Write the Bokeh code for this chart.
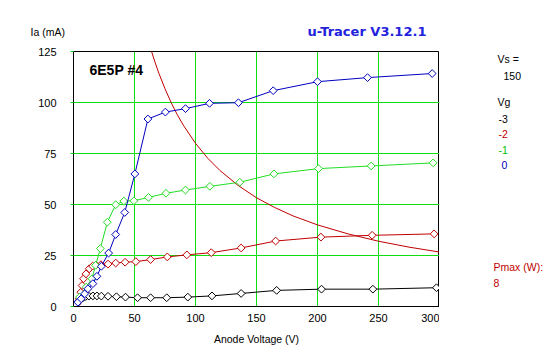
from bokeh.plotting import figure
from bokeh.models import Range1d, Label
from bokeh.layouts import column, row
from bokeh.embed import file_html
from bokeh.resources import INLINE
import math

# ---- data ----
vg_labels = ["-3", "-2", "-1", "0"]
vs_value = "150"
pmax_value = "8"

va_m3 = [0.5, 2, 4, 6, 8, 10, 12.6, 15.9, 19.2, 22.8, 28.3, 35.2, 42.6, 52.5, 63.2, 76.4, 93.7, 113.5, 137.4, 166.5, 203.3, 245.4, 297.5]
ia_m3 = [0.2, 1.2, 2.5, 3.6, 4.4, 4.9, 5.1, 5.2, 5.2, 5.1, 5.0, 4.8, 4.6, 4.3, 4.3, 4.3, 4.6, 5.2, 6.4, 7.9, 8.5, 8.5, 9.2]

va_m2 = [0.5, 2, 3.3, 4.7, 6, 7, 8.2, 10.2, 12.9, 15.7, 18.4, 22.5, 28.3, 34.6, 42.3, 51.1, 63.2, 76.9, 92.9, 112.9, 137.4, 165.7, 202.8, 244.8, 295.6]
ia_m2 = [0.3, 1.0, 1.8, 3.8, 7.0, 10.3, 13.6, 16.0, 18.5, 19.8, 20.3, 20.5, 20.8, 21.3, 21.7, 22.0, 23.0, 24.3, 25.3, 26.4, 28.7, 32.1, 34.0, 34.9, 35.6]

va_m1 = [0.8, 4.9, 10.4, 15.1, 18.1, 22.0, 27.7, 34.6, 41.2, 49.5, 61.5, 75.8, 91.8, 111.8, 136.3, 164.3, 200.8, 244.0, 294.8]
ia_m1 = [0.5, 4.6, 9.5, 13.6, 20.2, 28.4, 41.3, 49.9, 51.7, 51.8, 53.5, 55.5, 57.1, 58.9, 60.9, 65.0, 67.6, 68.9, 70.4]

va_0 = [0.5, 2, 3.6, 6.3, 9.1, 11.8, 15.9, 19.2, 22.8, 28.8, 34.6, 42.0, 50.3, 61.0, 75.3, 91.8, 111.5, 135.2, 163.7, 200.0, 241.0, 294.0]
ia_0 = [0.2, 1.0, 2.1, 3.8, 6.2, 8.7, 11.2, 14.8, 19.7, 26.2, 35.3, 46.1, 65.0, 91.9, 95.3, 97.0, 99.6, 99.9, 105.8, 110.2, 112.2, 114.2]

pmax_va = [64, 67, 70, 75, 80, 85, 90, 100, 110, 120, 135, 150, 165, 180, 200, 225, 250, 275, 300]
pmax_ia = [125, 119.4, 114.3, 106.7, 100, 94.1, 88.9, 80, 72.7, 66.7, 59.3, 53.3, 48.5, 44.4, 40, 35.6, 32, 29.1, 26.7]

x_ticks = [0, 50, 100, 150, 200, 250, 300]
y_ticks = [0, 25, 50, 75, 100, 125]

series_colors = ["black", "#C00000", "#22DD22", "#0000C0"]
legend_colors = ["black", "#C00000", "#00C000", "#0000C0"]

FONT = "Liberation Sans"
GRID = "#11DD11"

W, H = 547, 357
L, R, T, B = 73, 439, 51, 306
TOP_H = 44  # height of the header strip


def text_fig(w, h, xr, yr):
    f = figure(width=w, height=h, output_backend="svg", toolbar_location=None,
               x_range=Range1d(*xr), y_range=Range1d(*yr),
               x_axis_type=None, y_axis_type=None,
               min_border=0, min_border_left=0, min_border_right=0,
               min_border_top=0, min_border_bottom=0)
    f.grid.visible = False
    f.outline_line_color = None
    f.background_fill_color = "white"
    f.border_fill_color = "white"
    return f


def add_text(f, txt, x, y, color="black", size="10.5px", style="normal", font=FONT):
    f.add_layout(Label(x=x, y=y, text=txt, text_color=color,
                       text_font=font, text_font_size=size, text_font_style=style,
                       text_baseline="middle", text_align="left"))


# header strip (page pixel coordinates)
top = text_fig(W, TOP_H, (0, W), (TOP_H, 0))
add_text(top, "Ia (mA)", 30, 31)
add_text(top, "u-Tracer V3.12.1", 307, 31, color="#2222DD", size="13px", style="bold", font="DejaVu Sans")

# main chart
main_h = H - TOP_H
p = figure(width=R, height=main_h, output_backend="svg", toolbar_location=None,
           x_range=Range1d(0, 300), y_range=Range1d(0, 125),
           min_border_left=L, min_border_right=0, min_border_top=T - TOP_H,
           min_border_bottom=H - B)
p.background_fill_color = "white"
p.border_fill_color = "white"
p.outline_line_color = "black"
p.outline_line_width = 1
p.outline_line_alpha = 1.0

p.xaxis.ticker = x_ticks
p.yaxis.ticker = y_ticks
p.xgrid.ticker = x_ticks
p.ygrid.ticker = y_ticks
for g in (p.xgrid, p.ygrid):
    g.grid_line_color = GRID
    g.grid_line_width = 1
    g.grid_line_alpha = 1.0

for ax in (p.xaxis, p.yaxis):
    ax.axis_line_color = "black"
    ax.minor_tick_line_color = None
    ax.major_label_text_font = FONT
    ax.major_label_text_font_size = "11px"
    ax.major_label_text_color = "black"
p.xaxis.major_tick_line_color = None
p.xaxis.major_label_standoff = 1
p.yaxis.major_tick_line_color = GRID
p.yaxis.major_tick_in = 0
p.yaxis.major_tick_out = 3
p.yaxis.major_label_standoff = 14
p.xaxis.axis_label = "Anode Voltage (V)"
p.xaxis.axis_label_text_font = FONT
p.xaxis.axis_label_text_font_size = "10.5px"
p.xaxis.axis_label_text_font_style = "normal"
p.xaxis.axis_label_text_color = "black"
p.xaxis.axis_label_standoff = 8

# Pmax hyperbola
p.line(pmax_va, pmax_ia, line_color="#C00000", line_width=1)

for va, ia, col in zip([va_m3, va_m2, va_m1, va_0], [ia_m3, ia_m2, ia_m1, ia_0], series_colors):
    p.line(va, ia, line_color=col, line_width=1)
    p.scatter(va, ia, marker="square", angle=math.pi / 4, size=5.5,
              fill_color="white", line_color=col, line_width=1)

p.add_layout(Label(x=(89 - L) * 300 / (R - L), y=(B - 69) * 125 / (B - T), text="6E5P #4",
                   text_color="black", text_font=FONT, text_font_size="14px",
                   text_font_style="bold", text_baseline="middle", text_align="left"))

# right-hand info column: its frame is aligned with the main frame, so map page pixels onto it
side = text_fig(W - R, main_h, (R, W), (B, T))
add_text(side, "Vs =", 497, 58)
add_text(side, vs_value, 503, 75)
add_text(side, "Vg", 497, 101)
for lab, c, yy, xx in zip(vg_labels, legend_colors, [118, 133, 149, 164], [498, 498, 498, 501]):
    add_text(side, lab, xx, yy, color=c)
add_text(side, "Pmax (W):", 493, 266, color="#C00000")
add_text(side, pmax_value, 493, 282, color="#C00000")

layout = column(top, row(p, side, spacing=0), spacing=0)
open("out.html", "w").write(file_html(layout, INLINE))
